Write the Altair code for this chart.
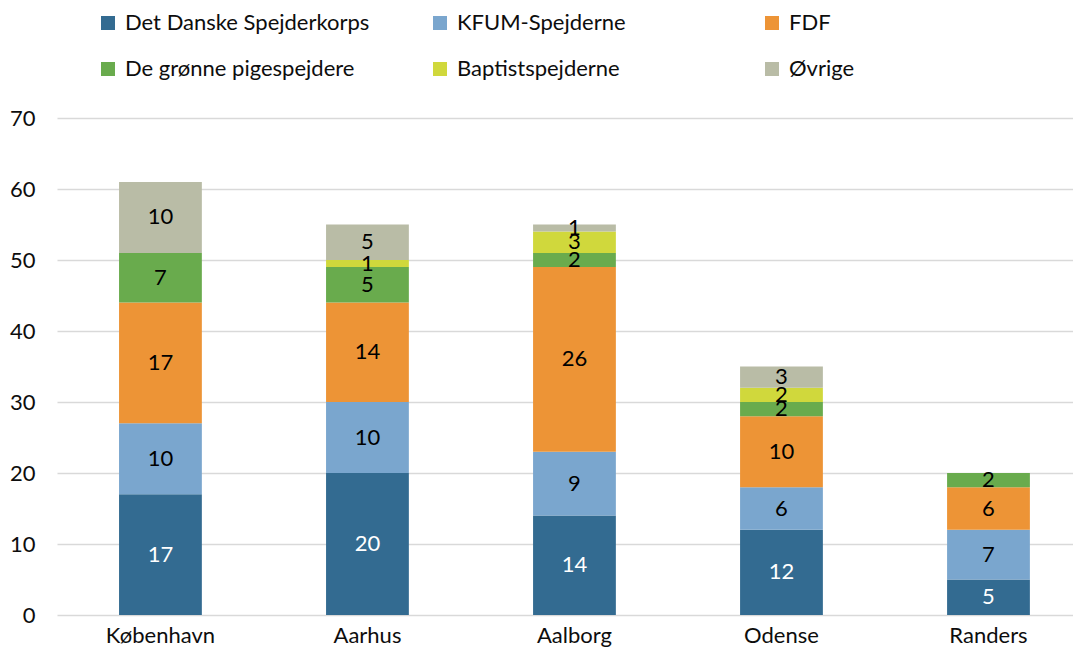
import altair as alt
import pandas as pd

cities = ["København", "Aarhus", "Aalborg", "Odense", "Randers"]
groups = ["Det Danske Spejderkorps", "KFUM-Spejderne", "FDF",
          "De grønne pigespejdere", "Baptistspejderne", "Øvrige"]
colors = ["#336B91", "#7AA6CE", "#ED9436", "#69AB4D", "#D0D83C", "#B9BCA6"]
text_colors = ["white", "black", "black", "black", "black", "black"]

dds = [17, 20, 14, 12, 5]
kfum = [10, 10, 9, 6, 7]
fdf = [17, 14, 26, 10, 6]
groenne = [7, 5, 2, 2, 2]
baptist = [0, 1, 3, 2, 0]
oevrige = [10, 5, 1, 3, 0]
series = [dds, kfum, fdf, groenne, baptist, oevrige]

rows = []
for gi, (g, vals) in enumerate(zip(groups, series)):
    for c, v in zip(cities, vals):
        rows.append({"city": c, "group": g, "idx": gi, "value": v,
                     "tcol": text_colors[gi]})
df = pd.DataFrame(rows)

FONT = "Lato"
FS = 22

base = alt.Chart(df).transform_stack(
    stack="value", groupby=["city"], as_=["y0", "y1"],
    sort=[alt.SortField("idx", order="ascending")]
).transform_calculate(mid="(datum.y0 + datum.y1) / 2")

xenc = alt.X("city:N", sort=cities, title=None,
             scale=alt.Scale(paddingInner=0.6, paddingOuter=0.254, align=0.59),
             axis=alt.Axis(labelAngle=0, domain=False, ticks=False, grid=False,
                           labelFont=FONT, labelFontSize=FS, labelColor="#0d0d0d",
                           labelPadding=10))

bars = base.mark_bar().encode(
    x=xenc,
    y=alt.Y("y0:Q", title=None,
            scale=alt.Scale(domain=[0, 70], nice=False),
            axis=alt.Axis(values=[0, 10, 20, 30, 40, 50, 60, 70], domain=False,
                          ticks=False, gridColor="#D9D9D9", gridWidth=1.5,
                          labelFont=FONT, labelFontSize=FS, labelColor="#0d0d0d",
                          labelPadding=22)),
    y2="y1:Q",
    color=alt.Color("group:N", sort=groups,
                    scale=alt.Scale(domain=groups, range=colors),
                    legend=alt.Legend(title=None, orient="none", legendX=40, legendY=-106,
                                      direction="horizontal",
                                      columns=3, gridAlign="all", columnPadding=59,
                                      rowPadding=24, symbolType="square", symbolSize=196,
                                      symbolStrokeWidth=0, symbolOpacity=1,
                                      labelLimit=400,
                                      labelFont=FONT, labelFontSize=FS,
                                      labelColor="#0d0d0d", labelOffset=6)),
    order=alt.Order("idx:Q", sort="ascending"),
)

labels = base.transform_filter("datum.value > 0").mark_text(
    font=FONT, fontSize=FS, baseline="middle"
).encode(
    x=alt.X("city:N", sort=cities),
    y=alt.Y("mid:Q"),
    text=alt.Text("value:Q"),
    color=alt.Color("tcol:N", scale=None),
)

chart = alt.layer(bars, labels).properties(
    width=1016, height=497,
    padding={"left": 49, "top": 110, "right": 0, "bottom": 34},
    autosize=alt.AutoSizeParams(type="none"),
).configure_view(stroke=None)

chart.save("out.html", embed_options={"renderer": "svg", "actions": False})
